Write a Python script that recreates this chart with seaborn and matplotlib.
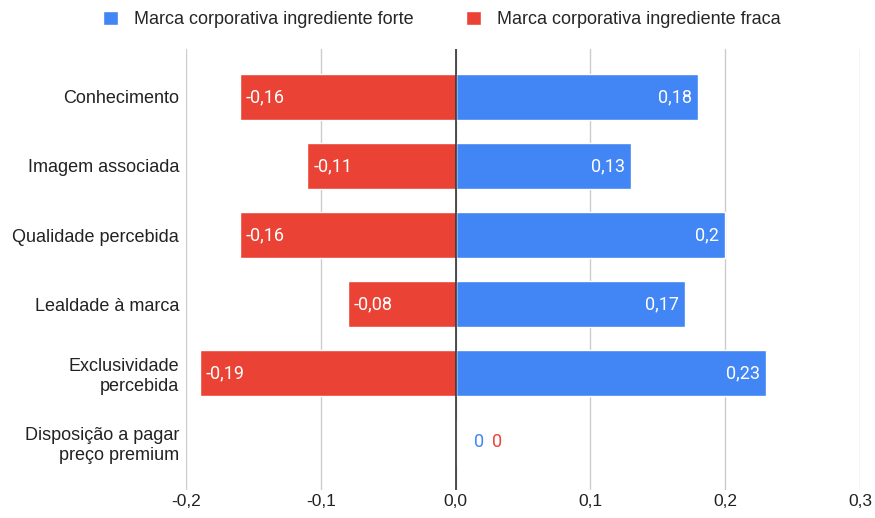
import numpy as np
import pandas as pd
import matplotlib.pyplot as plt
from matplotlib.patches import Patch
import seaborn as sns

sns.set_style("white")
plt.rcParams['font.family'] = ['Liberation Sans', 'DejaVu Sans']

# data
categories = ['Conhecimento', 'Imagem associada', 'Qualidade percebida',
              'Lealdade à marca', 'Exclusividade\npercebida',
              'Disposição a pagar\npreço premium']
forte = [0.18, 0.13, 0.20, 0.17, 0.23, 0.0]
fraca = [-0.16, -0.11, -0.16, -0.08, -0.19, 0.0]
forte_labels = ['0,18', '0,13', '0,2', '0,17', '0,23', '0']
fraca_labels = ['-0,16', '-0,11', '-0,16', '-0,08', '-0,19', '0']
xticks = [-0.2, -0.1, 0.0, 0.1, 0.2, 0.3]
xtick_labels = ['-0,2', '-0,1', '0,0', '0,1', '0,2', '0,3']

blue = '#4285F4'
red = '#EA4335'

df = pd.DataFrame({'cat': categories, 'forte': forte, 'fraca': fraca})

fig = plt.figure(figsize=(8.75, 5.18), dpi=100)
ax = fig.add_axes([0.2126, 0.054, 0.7703, 0.851])

sns.barplot(data=df, x='forte', y='cat', color=blue, width=0.66,
            saturation=1, ax=ax, orient='h')
sns.barplot(data=df, x='fraca', y='cat', color=red, width=0.66,
            saturation=1, ax=ax, orient='h')

ax.set_xlim(-0.2, 0.3)
ax.set_ylim(5.69, -0.69)
ax.set_xticks(xticks)
ax.set_xticklabels(xtick_labels, fontsize=12.5, color='#222222')
ax.tick_params(axis='y', labelsize=13, length=0, colors='#222222', pad=5)
ax.tick_params(axis='x', length=0, pad=3)
ax.set_xlabel('')
ax.set_ylabel('')
ax.xaxis.grid(True, color='#cccccc', linewidth=1)
ax.set_axisbelow(True)
for s in ax.spines.values():
    s.set_visible(False)
ax.axvline(0, color='#333333', linewidth=1.2, zorder=5)

# value labels
for i in range(len(categories)):
    if forte[i] != 0:
        ax.text(forte[i] - 0.0045, i, forte_labels[i], ha='right', va='center',
                color='white', fontsize=13, family='Roboto')
    if fraca[i] != 0:
        ax.text(fraca[i] + 0.0045, i, fraca_labels[i], ha='left', va='center',
                color='white', fontsize=13, family='Roboto')
    if forte[i] == 0 and fraca[i] == 0:
        ax.text(0.0175, i, forte_labels[i], ha='center', va='center',
                color=blue, fontsize=13, family='Roboto')
        ax.text(0.031, i, fraca_labels[i], ha='center', va='center',
                color=red, fontsize=13, family='Roboto')

handles = [Patch(facecolor=blue, label='Marca corporativa ingrediente forte'),
           Patch(facecolor=red, label='Marca corporativa ingrediente fraca')]
fig.legend(handles=handles, loc='center', bbox_to_anchor=(0.505, 0.962), ncol=2,
           frameon=False, fontsize=13, handlelength=0.8, handleheight=0.8,
           columnspacing=2.9, handletextpad=0.9)

fig.savefig('out.png', dpi=100)
